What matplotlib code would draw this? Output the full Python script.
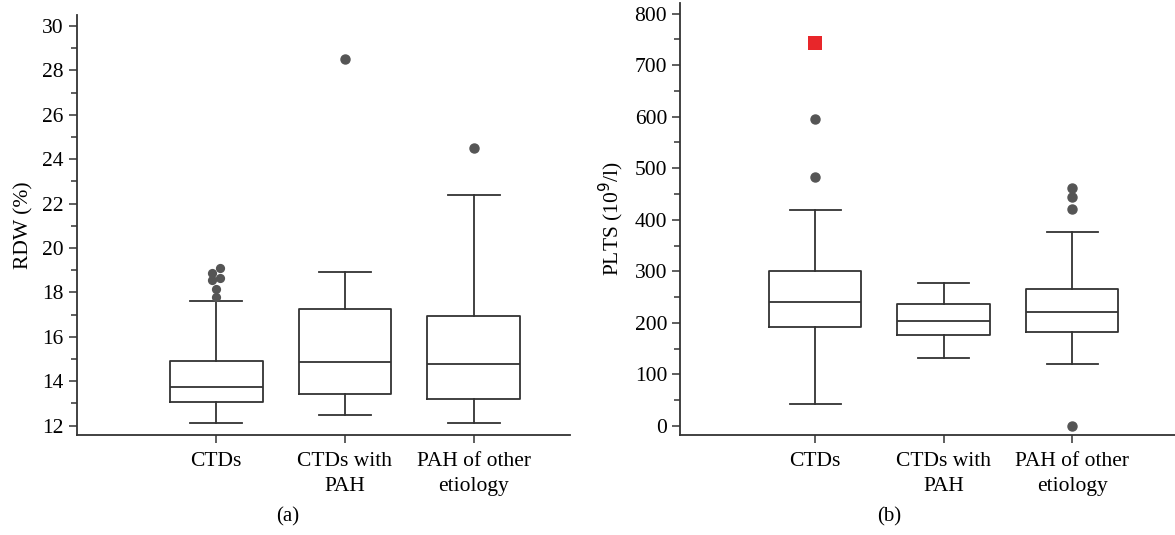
import matplotlib
matplotlib.use("Agg")
import matplotlib.pyplot as plt
from matplotlib.ticker import MultipleLocator

plt.rcParams['font.family'] = ['Liberation Serif', 'DejaVu Serif']

groups = ["CTDs", "CTDs with\nPAH", "PAH of other\netiology"]

# RDW (%) box statistics: low whisker, Q1, median, Q3, high whisker
rdw_low = [12.1, 12.5, 12.1]
rdw_q1 = [13.05, 13.42, 13.18]
rdw_med = [13.72, 14.86, 14.76]
rdw_q3 = [14.9, 17.24, 16.96]
rdw_high = [17.62, 18.93, 22.4]
rdw_out = [[], [28.5], [24.5]]
# CTDs outliers, drawn with a small horizontal spread as in the figure
rdw_ctd_out = [17.78, 18.15, 18.55, 18.66, 18.89, 19.11]
rdw_ctd_jit = [0.0, 0.0, -0.03, 0.03, -0.03, 0.03]

# PLTS (10^9/l)
plt_low = [43, 132, 120]
plt_q1 = [191, 176, 183]
plt_med = [241, 203, 221]
plt_q3 = [301, 237, 265]
plt_high = [418, 277, 376]
plt_out = [[483, 595], [], [0, 420, 445, 462]]
plt_extreme = [743]   # extreme value in CTDs group

box_col = "#333333"
dot_col = "#555555"


def make_stats(low, q1, med, q3, high, out):
    st = []
    for i in range(len(low)):
        st.append(dict(whislo=low[i], q1=q1[i], med=med[i], q3=q3[i],
                       whishi=high[i], fliers=out[i]))
    return st


def draw(ax, stats):
    lp = dict(color=box_col, linewidth=1.3)
    ax.bxp(stats, positions=[1, 2, 3], widths=0.72, capwidths=0.4,
           boxprops=lp, whiskerprops=lp, capprops=lp, medianprops=lp,
           flierprops=dict(marker='o', markerfacecolor=dot_col,
                           markeredgecolor=dot_col, markersize=6.5))
    ax.spines['top'].set_visible(False)
    ax.spines['right'].set_visible(False)
    ax.spines['left'].set_color(box_col)
    ax.spines['bottom'].set_color(box_col)
    ax.spines['left'].set_linewidth(1.3)
    ax.spines['bottom'].set_linewidth(1.3)
    ax.set_xticks([1, 2, 3])
    ax.set_xticklabels(groups, fontsize=15.5, linespacing=1.45)
    ax.tick_params(axis='both', which='major', length=6, width=1.1,
                   color=box_col, labelsize=15.5)
    ax.tick_params(axis='x', pad=6)
    ax.tick_params(axis='y', which='minor', length=4, width=1.1,
                   color=box_col)


fig = plt.figure(figsize=(11.75, 5.35), dpi=100)

ax1 = fig.add_axes([0.0655, 0.187, 0.42, 0.785])
draw(ax1, make_stats(rdw_low, rdw_q1, rdw_med, rdw_q3, rdw_high, rdw_out))
ax1.scatter([1 + j for j in rdw_ctd_jit], rdw_ctd_out, s=44, color=dot_col,
            linewidths=0, zorder=3)
ax1.set_xlim(-0.08, 3.75)
ax1.set_ylim(11.58, 30.5)
ax1.yaxis.set_major_locator(MultipleLocator(2))
ax1.yaxis.set_minor_locator(MultipleLocator(1))
ax1.set_ylabel("RDW (%)", fontsize=15.5, labelpad=6)

ax2 = fig.add_axes([0.579, 0.187, 0.421, 0.807])
draw(ax2, make_stats(plt_low, plt_q1, plt_med, plt_q3, plt_high, plt_out))
ax2.scatter([1] * len(plt_extreme), plt_extreme, marker='s', s=90,
            color="#e8262a", zorder=3, linewidths=0)
ax2.set_xlim(-0.05, 3.8)
ax2.set_ylim(-17.5, 820)
ax2.yaxis.set_major_locator(MultipleLocator(100))
ax2.yaxis.set_minor_locator(MultipleLocator(50))
ax2.set_ylabel("PLTS (10$^9$/l)", fontsize=15.5, labelpad=6)

fig.text(0.245, 0.033, "(a)", ha='center', va='center', fontsize=15)
fig.text(0.757, 0.033, "(b)", ha='center', va='center', fontsize=15)

fig.savefig("out.png", dpi=100)
